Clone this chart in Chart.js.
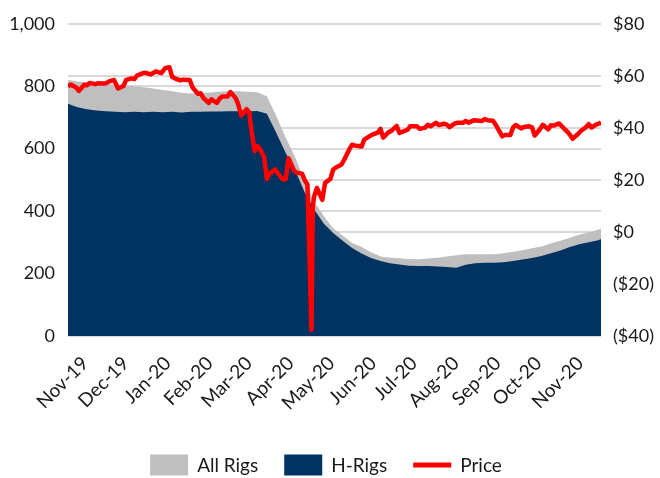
<!DOCTYPE html>
<html>
<head>
<meta charset="utf-8">
<script src="https://cdn.jsdelivr.net/npm/chart.js@4/dist/chart.umd.min.js"></script>
<style>
  html, body { margin: 0; padding: 0; background: #fff; }
  #wrap { width: 660px; height: 478px; }
</style>
</head>
<body>
<div id="wrap"><canvas id="rigChart" width="660" height="478"></canvas></div>
<script>
// weekly rig counts
const rigDates = [
  '2019-10-23', '2019-10-30', '2019-11-06', '2019-11-13', '2019-11-20', '2019-11-27',
  '2019-12-04', '2019-12-11', '2019-12-18', '2019-12-25', '2020-01-01', '2020-01-08',
  '2020-01-15', '2020-01-22', '2020-01-29', '2020-02-05', '2020-02-12', '2020-02-19',
  '2020-02-26', '2020-03-04', '2020-03-11', '2020-03-18', '2020-03-25', '2020-04-01',
  '2020-04-08', '2020-04-15', '2020-04-22', '2020-04-29', '2020-05-06', '2020-05-13',
  '2020-05-20', '2020-05-27', '2020-06-03', '2020-06-10', '2020-06-17', '2020-06-24',
  '2020-07-01', '2020-07-08', '2020-07-15', '2020-07-22', '2020-07-29', '2020-08-05',
  '2020-08-12', '2020-08-19', '2020-08-26', '2020-09-02', '2020-09-09', '2020-09-16',
  '2020-09-23', '2020-09-30', '2020-10-07', '2020-10-14', '2020-10-21', '2020-10-28',
  '2020-11-04', '2020-11-11', '2020-11-18', '2020-11-20'
];
const allRigs = [
  820, 815, 812, 808, 808, 805, 803, 800, 797, 793, 788, 784,
  779, 777, 779, 780, 782, 785, 784, 782, 781, 768, 705, 635,
  572, 495, 430, 385, 345, 322, 298, 285, 268, 255, 251, 249,
  247, 246, 248, 251, 255, 259, 262, 262, 262, 262, 265, 270,
  275, 281, 287, 296, 305, 315, 324, 332, 340, 344
];
const hRigs = [
  744, 733, 726, 722, 720, 718, 717, 718, 717, 718, 717, 718,
  716, 718, 718, 719, 719, 720, 720, 720, 721, 712, 650, 585,
  530, 460, 405, 360, 330, 305, 282, 264, 250, 240, 233, 229,
  225, 224, 224, 223, 221, 219, 228, 233, 235, 235, 236, 240,
  245, 250, 256, 265, 274, 285, 294, 300, 307, 311
];

// oil price ($/bbl)
const priceDates = [
  '2019-10-23', '2019-10-25', '2019-10-29', '2019-10-31', '2019-11-04', '2019-11-06',
  '2019-11-08', '2019-11-12', '2019-11-14', '2019-11-18', '2019-11-20', '2019-11-22',
  '2019-11-26', '2019-11-29', '2019-12-03', '2019-12-05', '2019-12-09', '2019-12-11',
  '2019-12-13', '2019-12-17', '2019-12-19', '2019-12-23', '2019-12-27', '2019-12-31',
  '2020-01-03', '2020-01-06', '2020-01-08', '2020-01-10', '2020-01-14', '2020-01-16',
  '2020-01-21', '2020-01-23', '2020-01-27', '2020-01-29', '2020-01-31', '2020-02-04',
  '2020-02-06', '2020-02-10', '2020-02-12', '2020-02-14', '2020-02-18', '2020-02-20',
  '2020-02-24', '2020-02-26', '2020-02-28', '2020-03-03', '2020-03-05', '2020-03-06',
  '2020-03-09', '2020-03-11', '2020-03-13', '2020-03-16', '2020-03-18', '2020-03-20',
  '2020-03-24', '2020-03-26', '2020-03-30', '2020-04-01', '2020-04-03', '2020-04-07',
  '2020-04-09', '2020-04-13', '2020-04-15', '2020-04-17', '2020-04-20', '2020-04-21',
  '2020-04-22', '2020-04-24', '2020-04-28', '2020-04-30', '2020-05-04', '2020-05-06',
  '2020-05-08', '2020-05-12', '2020-05-14', '2020-05-18', '2020-05-20', '2020-05-22',
  '2020-05-27', '2020-05-29', '2020-06-02', '2020-06-04', '2020-06-08', '2020-06-10',
  '2020-06-12', '2020-06-16', '2020-06-18', '2020-06-22', '2020-06-24', '2020-06-26',
  '2020-06-30', '2020-07-02', '2020-07-07', '2020-07-09', '2020-07-13', '2020-07-15',
  '2020-07-17', '2020-07-21', '2020-07-23', '2020-07-27', '2020-07-29', '2020-07-31',
  '2020-08-04', '2020-08-06', '2020-08-10', '2020-08-12', '2020-08-14', '2020-08-18',
  '2020-08-20', '2020-08-24', '2020-08-26', '2020-08-28', '2020-09-01', '2020-09-03',
  '2020-09-08', '2020-09-10', '2020-09-14', '2020-09-16', '2020-09-18', '2020-09-22',
  '2020-09-24', '2020-09-28', '2020-09-30', '2020-10-02', '2020-10-06', '2020-10-08',
  '2020-10-12', '2020-10-14', '2020-10-16', '2020-10-20', '2020-10-22', '2020-10-26',
  '2020-10-28', '2020-10-30', '2020-11-03', '2020-11-05', '2020-11-09', '2020-11-11',
  '2020-11-13', '2020-11-17', '2020-11-19', '2020-11-20'
];
const price = [
  55.97, 56.66, 55.54, 54.18, 56.54, 56.35,
  57.24, 56.80, 57.12, 57.05, 57.11, 57.77,
  58.41, 55.17, 56.10, 58.43, 59.02, 58.76,
  60.07, 60.94, 61.22, 60.52, 61.72, 61.06,
  63.05, 63.27, 59.61, 59.04, 58.23, 58.52,
  58.38, 55.59, 53.14, 53.33, 51.56, 49.61,
  50.95, 49.57, 51.17, 52.05, 52.05, 53.78,
  51.43, 48.73, 44.76, 47.18, 45.90, 41.28,
  31.13, 32.98, 31.73, 28.70, 20.37, 22.43,
  24.01, 22.60, 20.09, 20.31, 28.34, 23.63,
  22.76, 22.41, 19.87, 18.27, -37.63, 10.01,
  13.78, 16.94, 12.34, 18.84, 20.39, 23.99,
  24.74, 25.78, 27.56, 31.82, 33.49, 33.25,
  32.81, 35.49, 36.81, 37.41, 38.19, 39.60,
  36.26, 38.38, 38.84, 40.73, 38.01, 38.49,
  39.27, 40.65, 40.62, 39.62, 40.10, 41.20,
  40.59, 41.96, 41.07, 41.60, 41.27, 40.27,
  41.70, 41.95, 41.94, 42.67, 42.01, 42.89,
  42.82, 42.62, 43.39, 42.97, 42.76, 41.37,
  36.76, 37.30, 37.26, 40.16, 41.11, 39.80,
  40.31, 40.60, 40.22, 37.05, 39.57, 41.19,
  39.43, 41.04, 40.88, 41.70, 40.64, 38.56,
  37.39, 35.79, 37.66, 38.79, 40.29, 41.45,
  40.13, 41.43, 41.74, 42.15
];

const monthTicks = [
  '2019-11-01', '2019-12-01', '2020-01-01', '2020-02-01', '2020-03-01', '2020-04-01',
  '2020-05-01', '2020-06-01', '2020-07-01', '2020-08-01', '2020-09-01', '2020-10-01',
  '2020-11-01'
];
const monthLabels = [
  'Nov-19', 'Dec-19', 'Jan-20', 'Feb-20', 'Mar-20', 'Apr-20',
  'May-20', 'Jun-20', 'Jul-20', 'Aug-20', 'Sep-20', 'Oct-20', 'Nov-20'
];

const toDay = s => Date.parse(s) / 864e5;
const pts = (dates, vals) => dates.map((d, i) => ({ x: toDay(d), y: vals[i] }));

Chart.defaults.font.family = 'Lato';
Chart.defaults.font.size = 18;
Chart.defaults.color = '#1a1a1a';

// legend drawn by hand so the Price entry can be a line
const bottomLegend = {
  id: 'bottomLegend',
  afterDraw(chart) {
    const ctx = chart.ctx;
    const items = chart.data.datasets;
    const boxW = 38, boxH = 21, gap = 9, spacing = 26, cy = 465;
    ctx.save();
    ctx.font = '19px Lato';
    ctx.textBaseline = 'middle';
    let total = 0;
    items.forEach((ds, i) => {
      total += boxW + gap + ctx.measureText(ds.label).width + (i < items.length - 1 ? spacing : 0);
    });
    let x = (chart.width - total) / 2 - 4;
    items.forEach(ds => {
      if (ds.type === 'line' && !ds.fill) {
        ctx.fillStyle = ds.borderColor;
        ctx.fillRect(x, cy - 2.5, boxW, 5);
      } else {
        ctx.fillStyle = ds.backgroundColor;
        ctx.fillRect(x, cy - boxH / 2, boxW, boxH);
      }
      x += boxW + gap;
      ctx.fillStyle = '#1a1a1a';
      ctx.fillText(ds.label, x, cy + 1);
      x += ctx.measureText(ds.label).width + spacing;
    });
    ctx.restore();
  }
};

new Chart(document.getElementById('rigChart'), {
  data: {
    datasets: [
      {
        type: 'line',
        label: 'All Rigs',
        data: pts(rigDates, allRigs),
        backgroundColor: '#bfbfbf',
        borderWidth: 0,
        pointRadius: 0,
        fill: 'origin',
        yAxisID: 'y',
        order: 2
      },
      {
        type: 'line',
        label: 'H-Rigs',
        data: pts(rigDates, hRigs),
        backgroundColor: '#003262',
        borderWidth: 0,
        pointRadius: 0,
        fill: 'origin',
        yAxisID: 'y',
        order: 1
      },
      {
        type: 'line',
        label: 'Price',
        data: pts(priceDates, price),
        borderColor: '#ff0000',
        borderWidth: 4.5,
        borderJoinStyle: 'round',
        pointRadius: 0,
        fill: false,
        yAxisID: 'y1',
        order: 0
      }
    ]
  },
  options: {
    responsive: false,
    animation: false,
    layout: { padding: { top: 19, bottom: 40, left: 0, right: 0 } },
    plugins: {
      legend: { display: false },
      tooltip: { enabled: false }
    },
    scales: {
      x: {
        type: 'linear',
        min: toDay('2019-10-23'),
        max: toDay('2020-11-20'),
        grid: { display: false },
        border: { display: false },
        afterBuildTicks: scale => {
          scale.ticks = monthTicks.map(s => ({ value: toDay(s) }));
        },
        afterFit: scale => { scale.height = 102; },
        ticks: {
          autoSkip: false,
          minRotation: 45,
          maxRotation: 45,
          padding: 8,
          labelOffset: 5,
          font: { size: 19 },
          callback: (value, index) => monthLabels[index]
        }
      },
      y: {
        position: 'left',
        min: 0,
        max: 1000,
        grid: { color: '#d9d9d9', lineWidth: 2, drawTicks: false },
        border: { display: false },
        afterFit: scale => { scale.width = 68; },
        ticks: {
          stepSize: 200,
          padding: 13,
          callback: v => v.toLocaleString('en-US')
        }
      },
      y1: {
        position: 'right',
        min: -40,
        max: 80,
        grid: { color: '#d9d9d9', lineWidth: 2, drawTicks: false },
        border: { display: false },
        afterFit: scale => { scale.width = 59; },
        ticks: {
          stepSize: 20,
          padding: 12,
          callback: v => (v < 0 ? '($' + (-v) + ')' : '$' + v)
        }
      }
    }
  },
  plugins: [bottomLegend]
});
</script>
</body>
</html>
